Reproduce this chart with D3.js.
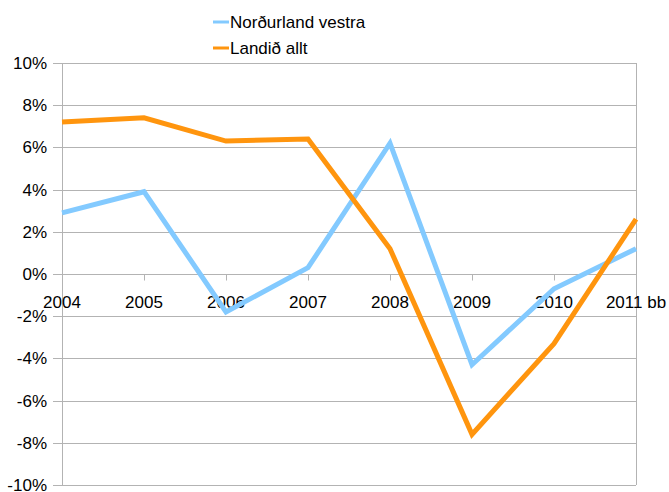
<!DOCTYPE html>
<html>
<head>
<meta charset="utf-8">
<script src="https://cdn.jsdelivr.net/npm/d3@7"></script>
<style>
body { margin: 0; background: #fff; }
text { font-family: "Liberation Sans", Arial, sans-serif; font-size: 17px; fill: #000; }
</style>
</head>
<body>
<div id="chart"></div>
<script>
var years = ["2004", "2005", "2006", "2007", "2008", "2009", "2010", "2011"];
var yearLabels = ["2004", "2005", "2006", "2007", "2008", "2009", "2010", "2011 bb"];
var nordurland = [2.9, 3.9, -1.8, 0.3, 6.2, -4.3, -0.7, 1.2];
var landid = [7.2, 7.4, 6.3, 6.4, 1.2, -7.6, -3.3, 2.6];
var seriesNames = ["Norðurland vestra", "Landið allt"];
var seriesColors = ["#83caff", "#ff950e"];
var yTicks = [-10, -8, -6, -4, -2, 0, 2, 4, 6, 8, 10];

var width = 669, height = 492;
var margin = {top: 63, right: 33, bottom: 7, left: 62};

var svg = d3.select("#chart").append("svg")
    .attr("width", width)
    .attr("height", height);

var x = d3.scalePoint()
    .domain(years)
    .range([margin.left, width - margin.right]);

var y = d3.scaleLinear()
    .domain([-10, 10])
    .range([height - margin.bottom, margin.top]);

// gridlines (stick out a little to the left, like ticks)
svg.append("g")
    .selectAll("line")
    .data(yTicks)
    .enter().append("line")
    .attr("x1", margin.left - 9)
    .attr("x2", width - margin.right)
    .attr("y1", function(d) { return Math.round(y(d)) + 0.5; })
    .attr("y2", function(d) { return Math.round(y(d)) + 0.5; })
    .attr("stroke", "#b3b3b3")
    .attr("stroke-width", 1);

// plot frame left/right
svg.append("line")
    .attr("x1", margin.left + 0.5).attr("x2", margin.left + 0.5)
    .attr("y1", y(10)).attr("y2", y(-10))
    .attr("stroke", "#b3b3b3");
svg.append("line")
    .attr("x1", width - margin.right + 0.5).attr("x2", width - margin.right + 0.5)
    .attr("y1", y(10)).attr("y2", y(-10))
    .attr("stroke", "#b3b3b3");

// y labels
svg.append("g")
    .selectAll("text")
    .data(yTicks)
    .enter().append("text")
    .attr("x", margin.left - 15)
    .attr("y", function(d) { return y(d) + 6; })
    .attr("text-anchor", "end")
    .text(function(d) { return d + "%"; });

// x axis ticks at 0
var zeroY = Math.round(y(0)) + 0.5;
svg.append("g")
    .selectAll("line")
    .data(years)
    .enter().append("line")
    .attr("x1", function(d) { return Math.round(x(d)) + 0.5; })
    .attr("x2", function(d) { return Math.round(x(d)) + 0.5; })
    .attr("y1", zeroY)
    .attr("y2", zeroY + 6)
    .attr("stroke", "#b3b3b3");

svg.append("g")
    .selectAll("text")
    .data(years)
    .enter().append("text")
    .attr("x", function(d) { return x(d); })
    .attr("y", zeroY + 33)
    .attr("text-anchor", "middle")
    .text(function(d, i) { return yearLabels[i]; });

// lines
var line = d3.line()
    .x(function(d, i) { return x(years[i]); })
    .y(function(d) { return y(d); });

[nordurland, landid].forEach(function(vals, i) {
    svg.append("path")
        .datum(vals)
        .attr("d", line)
        .attr("fill", "none")
        .attr("stroke", seriesColors[i])
        .attr("stroke-width", 5)
        .attr("stroke-linejoin", "miter");
});

// legend
var legend = svg.append("g")
    .selectAll("g")
    .data(seriesNames)
    .enter().append("g")
    .attr("transform", function(d, i) { return "translate(213," + (22 + i * 26) + ")"; });

legend.append("line")
    .attr("x1", 0).attr("x2", 16)
    .attr("y1", 0).attr("y2", 0)
    .attr("stroke", function(d, i) { return seriesColors[i]; })
    .attr("stroke-width", 3);

legend.append("text")
    .attr("x", 17)
    .attr("y", 6)
    .text(function(d) { return d; });
</script>
</body>
</html>
